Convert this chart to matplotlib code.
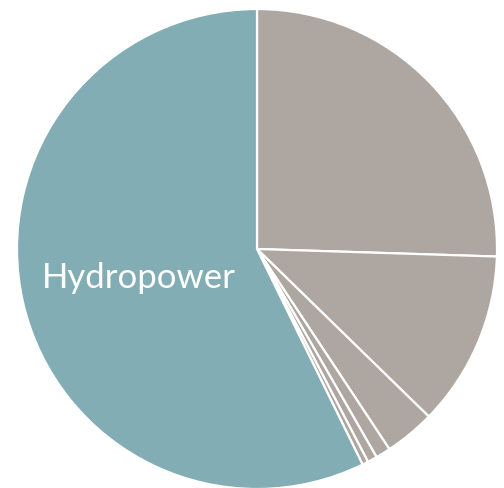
import matplotlib
matplotlib.use('Agg')
import matplotlib.pyplot as plt

# share of renewable capacity (percent)
sources = ['Wind', 'Solar', 'Bioenergy', 'Geothermal', 'Marine', 'Other', 'Hydropower']
shares = [25.5, 11.8, 3.4, 1.0, 0.65, 0.4, 57.25]
colours = ['#ada6a1', '#ada6a1', '#ada6a1', '#ada6a1', '#ada6a1', '#ada6a1', '#83adb4']

fig = plt.figure(figsize=(5.04, 4.89), dpi=100)
# pie centre at (257, 250) px, radius 240 px
ax = fig.add_axes([17 / 504, (489 - 250 - 240) / 489, 480 / 504, 480 / 489])
ax.pie(shares, colors=colours, startangle=90, counterclock=False, radius=1,
       wedgeprops={'edgecolor': 'white', 'linewidth': 1.6})
ax.set_xlim(-1, 1)
ax.set_ylim(-1, 1)
ax.set_aspect('auto')
ax.axis('off')

ax.text(-0.895, -0.115, sources[-1], color='white', fontsize=25, family='Lato',
        ha='left', va='center')

fig.savefig('out.png', dpi=100)
